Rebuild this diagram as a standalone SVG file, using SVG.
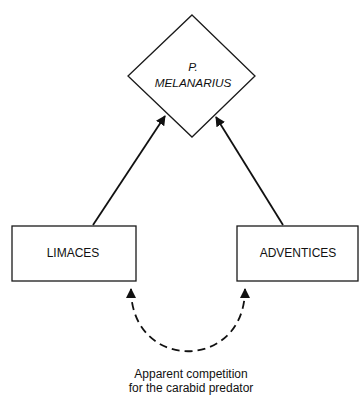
<svg xmlns="http://www.w3.org/2000/svg" width="360" height="396" viewBox="0 0 360 396">
<style>
.shape{fill:#fff;stroke:#1a1a1a;stroke-width:1.3}
.lbl{font-family:"Liberation Sans",Arial,sans-serif;font-size:12px;fill:#111;text-anchor:middle}
.it{font-style:italic;font-size:11.8px}
.conn{fill:none;stroke:#111;stroke-width:1.8}
.dash{stroke-dasharray:8 5}
</style>
<defs>
<marker id="ah" viewBox="0 0 10 10" refX="9" refY="5" markerWidth="10" markerHeight="10" markerUnits="userSpaceOnUse" orient="auto-start-reverse">
<path d="M0,0 L10,5 L0,10 z" fill="#111"/>
</marker>
</defs>
<rect width="360" height="396" fill="#fff"/>
<g id="connectors">
<line class="conn" x1="93" y1="225" x2="165" y2="116" marker-end="url(#ah)"/>
<line class="conn" x1="283" y1="225" x2="216" y2="117" marker-end="url(#ah)"/>
<path class="conn dash" d="M131,289 C131,372 245,372 245,289" marker-start="url(#ah)" marker-end="url(#ah)"/>
</g>
<g id="p-melanarius">
<polygon class="shape" points="192,15 255,76 192,137 128,76"/>
<text class="lbl it" x="193" y="71">P.</text>
<text class="lbl it" x="193" y="87">MELANARIUS</text>
</g>
<g id="limaces">
<rect class="shape" x="12" y="226" width="124" height="55"/>
<text class="lbl" x="73" y="257">LIMACES</text>
</g>
<g id="adventices">
<rect class="shape" x="237" y="226" width="121" height="55"/>
<text class="lbl" x="298" y="257">ADVENTICES</text>
</g>
<g id="caption">
<text class="lbl" x="191" y="378">Apparent competition</text>
<text class="lbl" x="191" y="392">for the carabid predator</text>
</g>
</svg>
